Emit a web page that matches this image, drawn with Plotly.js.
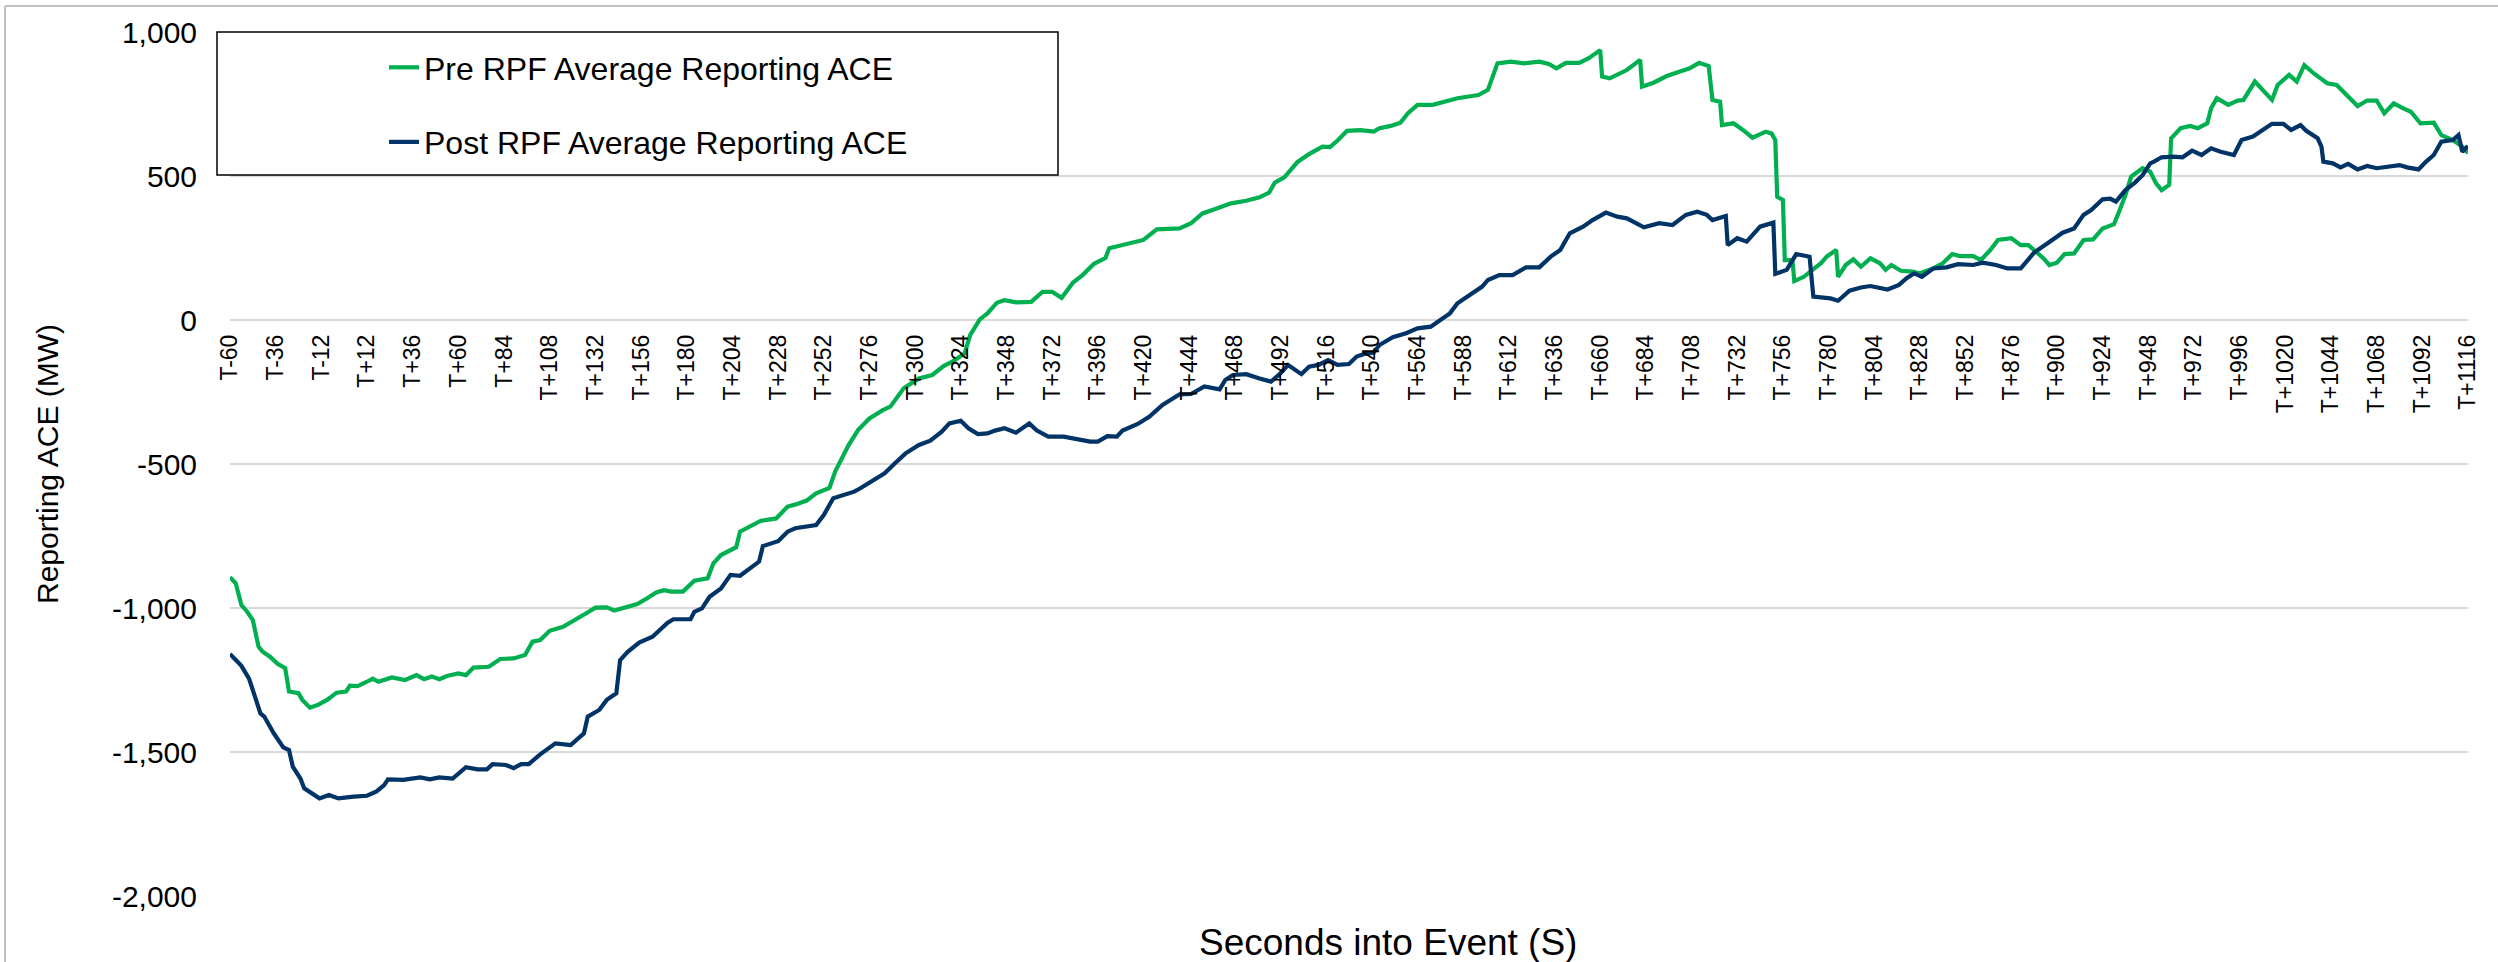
<!DOCTYPE html>
<html>
<head>
<meta charset="utf-8">
<script src="https://cdn.plot.ly/plotly-3.0.1.min.js"></script>
<style>
  html, body { margin: 0; padding: 0; background: #ffffff; }
  #chart { width: 2498px; height: 962px; }
</style>
</head>
<body>
<div id="chart"></div>
<script>
// ---- Data (seconds into event, MW) ----
const preSeconds = [-60,-57,-54,-51,-48,-45,-43,-39,-35,-31,-29,-24,-22,-18,-14,-9,-4,1,3,7,12,15,18,25,32,38,42,46,50,54,60,64,68,76,82,89,95,99,103,108,115,120,127,132,138,142,147,154,159,164,168,172,178,184,191,194,198,204,206,208,213,219,227,233,238,243,248,255,258,261,265,270,276,283,287,294,302,309,315,321,326,329,334,338,343,347,353,361,367,372,377,383,388,394,400,402,412,420,427,439,445,451,457,466,474,481,486,489,494,498,501,507,514,518,522,527,534,541,544,550,555,559,564,572,579,585,596,601,606,613,620,628,633,637,642,649,654,660,661,665,674,681,682,688,695,702,707,712,717,719,723,724,730,735,740,747,750,752,753,756,757,761,762,767,773,776,779,784,785,789,793,797,802,807,810,813,818,824,828,835,840,845,849,856,860,865,869,876,881,885,889,893,896,900,904,909,914,919,924,930,933,936,939,945,949,952,955,959,960,965,970,974,979,981,984,990,995,998,1004,1009,1013,1016,1022,1026,1030,1035,1042,1047,1053,1058,1063,1068,1072,1077,1082,1086,1091,1098,1102,1108,1113,1116];
const preACE = [-893,-914,-990,-1013,-1042,-1134,-1151,-1169,-1194,-1209,-1290,-1296,-1319,-1346,-1337,-1319,-1294,-1290,-1270,-1271,-1256,-1245,-1256,-1241,-1250,-1233,-1247,-1238,-1247,-1236,-1227,-1233,-1207,-1204,-1177,-1175,-1163,-1117,-1111,-1079,-1065,-1047,-1019,-999,-998,-1009,-998,-986,-967,-946,-938,-943,-943,-905,-897,-845,-816,-796,-789,-735,-718,-697,-689,-648,-639,-627,-602,-583,-526,-488,-435,-382,-342,-313,-301,-237,-203,-191,-160,-139,-116,-52,2,23,60,69,61,63,98,98,77,130,156,195,215,249,266,278,315,318,336,370,384,405,414,426,442,477,495,526,549,576,602,600,623,657,659,654,666,674,685,718,747,747,758,770,781,799,891,897,891,897,889,874,893,893,909,937,845,839,868,903,810,824,847,862,874,893,882,764,758,677,683,660,633,654,648,625,428,417,208,208,135,150,179,197,220,243,150,191,211,185,214,197,174,191,171,168,162,179,197,229,222,222,208,243,278,284,260,260,237,214,191,199,229,231,278,280,318,333,382,434,498,527,515,475,451,469,631,666,674,666,683,735,770,747,762,764,828,793,764,816,851,828,885,856,822,816,775,743,762,762,718,752,735,723,683,685,642,625,602,579];

const postSeconds = [-60,-54,-50,-47,-44,-42,-37,-32,-29,-27,-23,-21,-16,-13,-8,-3,5,12,17,21,23,31,40,45,50,57,64,70,75,78,85,89,93,97,103,107,111,119,126,128,134,138,143,145,149,155,162,170,173,182,184,188,192,198,203,208,212,218,220,226,228,233,237,248,252,257,261,268,271,278,284,289,295,302,308,314,318,324,328,333,338,342,347,353,358,360,364,370,378,383,392,396,401,406,409,417,423,430,436,439,445,452,460,463,467,474,481,487,492,496,503,507,512,517,522,528,532,536,541,544,551,558,564,571,576,581,585,592,598,601,607,614,621,628,634,639,644,651,656,663,669,674,683,691,698,705,711,716,719,726,727,732,737,744,751,752,758,763,770,772,781,785,791,797,802,811,817,821,825,829,835,842,848,856,861,868,874,881,884,888,893,898,903,909,914,918,924,928,931,936,941,945,949,951,955,961,966,971,976,981,986,993,997,1003,1009,1013,1019,1023,1028,1031,1037,1039,1040,1045,1049,1053,1058,1063,1068,1075,1080,1084,1090,1094,1098,1102,1108,1111,1113,1116];
const postACE = [-1160,-1201,-1245,-1302,-1366,-1377,-1435,-1484,-1493,-1551,-1592,-1626,-1649,-1661,-1649,-1661,-1655,-1652,-1637,-1615,-1595,-1597,-1588,-1595,-1588,-1592,-1553,-1560,-1560,-1542,-1545,-1556,-1542,-1542,-1508,-1491,-1470,-1476,-1435,-1377,-1354,-1319,-1296,-1181,-1152,-1120,-1100,-1051,-1039,-1039,-1013,-1001,-961,-932,-885,-888,-868,-839,-785,-770,-768,-735,-723,-712,-677,-619,-611,-596,-585,-556,-532,-500,-463,-434,-419,-388,-359,-350,-376,-396,-394,-384,-376,-391,-370,-359,-384,-405,-405,-411,-422,-422,-403,-405,-384,-361,-336,-295,-272,-258,-257,-231,-241,-208,-191,-188,-203,-214,-185,-156,-188,-162,-156,-139,-156,-153,-127,-118,-113,-87,-60,-46,-29,-23,0,23,58,90,116,139,156,156,183,183,220,243,301,324,347,373,359,353,322,336,330,365,376,365,347,361,260,284,272,324,338,160,174,229,220,81,75,67,102,113,118,106,122,145,162,150,179,183,194,191,199,191,179,179,203,234,257,280,303,318,365,382,419,421,411,451,477,503,544,550,565,567,565,588,573,596,584,573,625,637,662,681,681,660,677,657,631,602,550,544,530,542,523,535,527,535,538,530,523,550,573,619,625,642,584,604];

const xTickSeconds = [-60,-36,-12,12,36,60,84,108,132,156,180,204,228,252,276,300,324,348,372,396,420,444,468,492,516,540,564,588,612,636,660,684,708,732,756,780,804,828,852,876,900,924,948,972,996,1020,1044,1068,1092,1116];
const xTickLabels = ["T-60","T-36","T-12","T+12","T+36","T+60","T+84","T+108","T+132","T+156","T+180","T+204","T+228","T+252","T+276","T+300","T+324","T+348","T+372","T+396","T+420","T+444","T+468","T+492","T+516","T+540","T+564","T+588","T+612","T+636","T+660","T+684","T+708","T+732","T+756","T+780","T+804","T+828","T+852","T+876","T+900","T+924","T+948","T+972","T+996","T+1020","T+1044","T+1068","T+1092","T+1116"];
const yTickValues = [-2000,-1500,-1000,-500,0,500,1000];
const yTickLabels = ["-2,000","-1,500","-1,000","-500","0","500","1,000"];

const seriesNames = ["Pre RPF Average Reporting ACE", "Post RPF Average Reporting ACE"];

// ---- Layout geometry (pixels) ----
const W = 2498, H = 962;
const plotL = 230, plotR = 2468, plotT = 32, plotB = 896;
const pw = plotR - plotL, ph = plotB - plotT;
const px = v => (v - plotL) / pw;   // pixel x -> paper x
const py = v => (plotB - v) / ph;   // pixel y -> paper y

const FONT = "Liberation Sans, Arial, Helvetica, sans-serif";
const yMin = -2000, yMax = 1000;

const traces = [
  {
    x: preSeconds, y: preACE, type: "scatter", mode: "lines",
    name: seriesNames[0], legendgroup: "pre",
    line: { color: "#00B050", width: 4.2 }
  },
  {
    x: postSeconds, y: postACE, type: "scatter", mode: "lines",
    name: seriesNames[1], legendgroup: "post",
    line: { color: "#003366", width: 4.2 }
  }
];

const layout = {
  width: W, height: H,
  margin: { l: plotL, r: W - plotR, t: plotT, b: H - plotB, pad: 0 },
  paper_bgcolor: "#ffffff",
  plot_bgcolor: "#ffffff",
  font: { family: FONT, color: "#000000" },
  showlegend: true,
  legend: {
    x: px(384), y: py(40), xanchor: "left", yanchor: "top",
    bgcolor: "rgba(0,0,0,0)", borderwidth: 0,
    font: { family: FONT, size: 32, color: "#000000" },
    traceorder: "grouped", tracegroupgap: 30
  },
  xaxis: {
    type: "linear",
    range: [-60, 1116],
    anchor: "free",
    position: (0 - yMin) / (yMax - yMin),
    tickmode: "array",
    tickvals: xTickSeconds,
    ticktext: xTickLabels,
    tickangle: -90,
    tickfont: { family: FONT, size: 23, color: "#000000" },
    ticks: "",
    ticklabelstandoff: 9,
    showgrid: false, zeroline: false, showline: false
  },
  yaxis: {
    range: [yMin, yMax],
    tickmode: "array",
    tickvals: yTickValues,
    ticktext: yTickLabels,
    tickfont: { family: FONT, size: 30, color: "#000000" },
    ticks: "",
    ticklabelstandoff: 32,
    showgrid: true, gridcolor: "#D9D9D9", gridwidth: 1.5,
    zeroline: false, showline: false,
    title: { text: "Reporting ACE (MW)", font: { family: FONT, size: 30, color: "#000000" }, standoff: 44 }
  },
  shapes: [
    // legend box
    { type: "rect", xref: "paper", yref: "paper",
      x0: px(217), x1: px(1058), y0: py(175), y1: py(32),
      line: { color: "#000000", width: 1.5 }, fillcolor: "#ffffff", layer: "above" },
    // outer chart frame (top and left edges)
    { type: "line", xref: "paper", yref: "paper",
      x0: px(5), x1: px(2498), y0: py(6), y1: py(6),
      line: { color: "#BFBFBF", width: 2 } },
    { type: "line", xref: "paper", yref: "paper",
      x0: px(5), x1: px(5), y0: py(6), y1: py(962),
      line: { color: "#BFBFBF", width: 2 } }
  ],
  annotations: [
    { text: "Seconds into Event (S)", xref: "paper", yref: "paper",
      x: px(1388), y: py(942), xanchor: "center", yanchor: "middle",
      showarrow: false, font: { family: FONT, size: 37, color: "#000000" } }
  ]
};

Plotly.newPlot("chart", traces, layout, { displayModeBar: false, staticPlot: true });
</script>
</body>
</html>
